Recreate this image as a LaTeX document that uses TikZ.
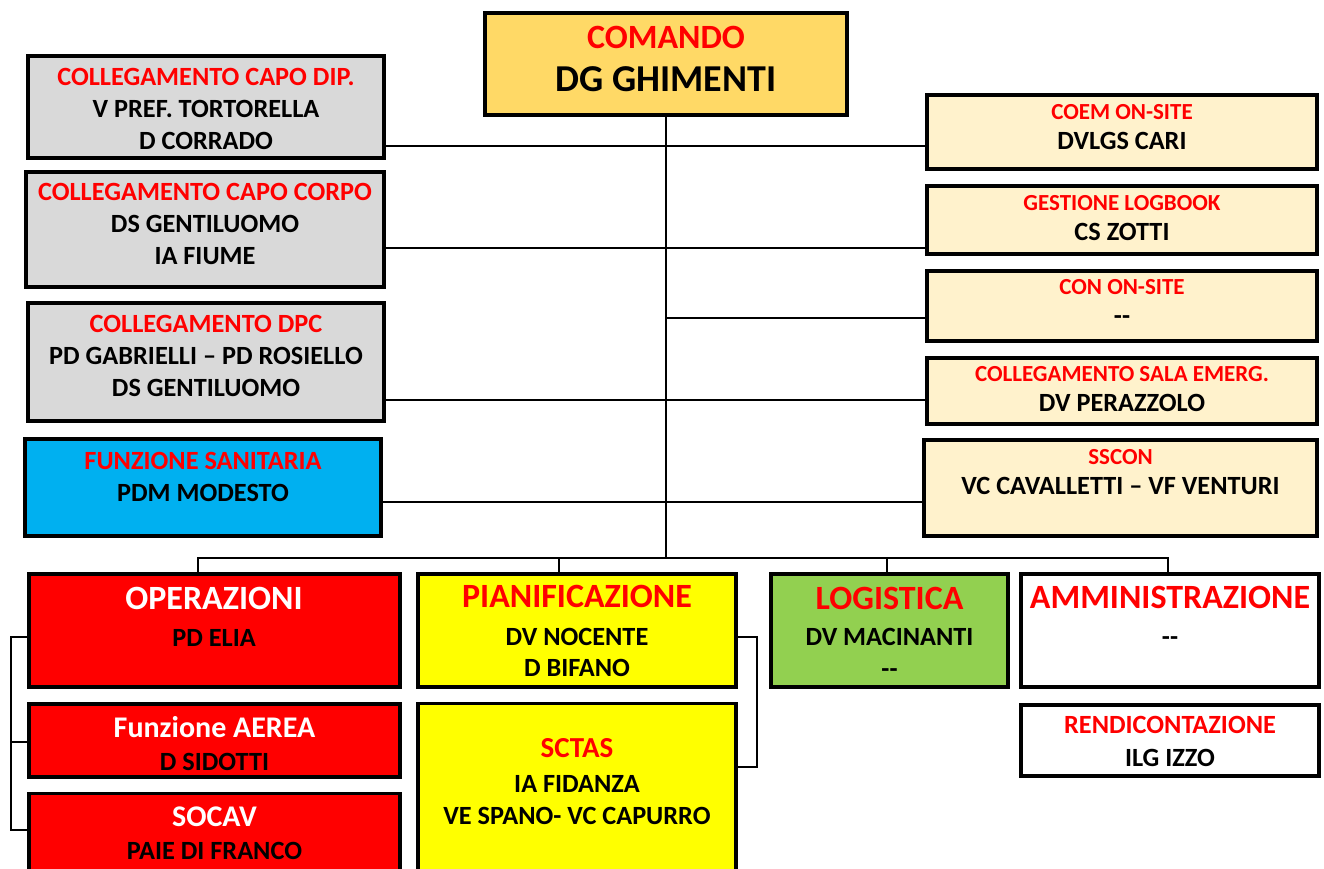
\documentclass[tikz,border=0pt]{standalone}
\usepackage{fontspec}
\setmainfont{Carlito}
\usepackage{tikz}

\definecolor{titlered}{HTML}{FF0000}
\definecolor{grigio}{HTML}{D9D9D9}
\definecolor{celeste}{HTML}{00B0F0}
\definecolor{crema}{HTML}{FFF2CC}
\definecolor{oro}{HTML}{FFD966}
\definecolor{giallo}{HTML}{FFFF00}
\definecolor{verde}{HTML}{92D050}

\newcommand{\titolo}[3]{{\fontsize{#1}{#1}\selectfont\color{#2}#3}}

\tikzset{
  box/.style={draw, line width=3.8pt, inner sep=0pt},
  link/.style={line width=2.2pt},
  scritta/.style={align=center, inner sep=0pt}
}

\begin{document}
\begin{tikzpicture}[x=1pt, y=-1pt]
    \useasboundingbox (0,0) rectangle (1324,868);
    \fill[white] (0,0) rectangle (1324,868);
    \clip (0,0) rectangle (1324,868);

    % Comando
    \node[box, line width=4.2pt, fill=oro, minimum width=362pt, minimum height=102pt] (cmd) at (666,64) {};
    \node[scritta, font=\fontsize{38}{43}\selectfont\bfseries] (cmdt) at (666,59) {\titolo{34}{titlered}{COMANDO}\\DG GHIMENTI};

    % Collegamenti a sinistra
    \node[box, fill=grigio, minimum width=356pt, minimum height=102pt] (dip) at (206,107) {};
    \node[box, fill=grigio, minimum width=358pt, minimum height=115pt] (corpo) at (205,229.5) {};
    \node[box, fill=grigio, minimum width=356pt, minimum height=118pt] (dpc) at (206,362) {};
    \node[box, fill=celeste, minimum width=356pt, minimum height=97pt] (sanit) at (203,487.5) {};
    \node[scritta, font=\fontsize{26.3}{32}\selectfont\bfseries] (dipt) at (206,109) {\titolo{26.3}{titlered}{COLLEGAMENTO CAPO DIP.}\\V PREF. TORTORELLA\\D CORRADO};
    \node[scritta, font=\fontsize{26.3}{32}\selectfont\bfseries] (corpot) at (205,224) {\titolo{26.3}{titlered}{COLLEGAMENTO CAPO CORPO}\\DS GENTILUOMO\\IA FIUME};
    \node[scritta, font=\fontsize{26.3}{32}\selectfont\bfseries] (dpct) at (206,355.5) {\titolo{26.3}{titlered}{COLLEGAMENTO DPC}\\PD GABRIELLI -- PD ROSIELLO\\DS GENTILUOMO};
    \node[scritta, font=\fontsize{26.3}{32}\selectfont\bfseries] (sanitt) at (203,477) {\titolo{26.3}{titlered}{FUNZIONE SANITARIA}\\PDM MODESTO};

    % Staff a destra
    \node[box, fill=crema, minimum width=390pt, minimum height=74pt] (coem) at (1122,132) {};
    \node[box, fill=crema, minimum width=390pt, minimum height=68pt] (logbook) at (1122,220) {};
    \node[box, fill=crema, minimum width=390pt, minimum height=70pt] (con) at (1122,306) {};
    \node[box, fill=crema, minimum width=390pt, minimum height=66pt] (sala) at (1122,391) {};
    \node[box, fill=crema, minimum width=393pt, minimum height=96pt] (sscon) at (1120.5,488) {};
    \node[scritta, font=\fontsize{26.3}{30}\selectfont\bfseries] (coemt) at (1122,127.5) {\titolo{23}{titlered}{COEM ON-SITE}\\DVLGS CARI};
    \node[scritta, font=\fontsize{26.3}{30}\selectfont\bfseries] (logbookt) at (1122,218) {\titolo{23}{titlered}{GESTIONE LOGBOOK}\\CS ZOTTI};
    \node[scritta, font=\fontsize{26.3}{30}\selectfont\bfseries] (cont) at (1122,302) {\titolo{23}{titlered}{CON ON-SITE}\\-{}-};
    \node[scritta, font=\fontsize{26.3}{30}\selectfont\bfseries] (salat) at (1122,389.5) {\titolo{23}{titlered}{COLLEGAMENTO SALA EMERG.}\\DV PERAZZOLO};
    \node[scritta, font=\fontsize{26.3}{30}\selectfont\bfseries] (sscont) at (1120.5,472.5) {\titolo{23}{titlered}{SSCON}\\VC CAVALLETTI -- VF VENTURI};

    % Funzioni in basso
    \node[box, fill=titlered, minimum width=371pt, minimum height=113pt] (oper) at (214.5,630.5) {};
    \node[box, fill=titlered, minimum width=371pt, minimum height=73pt] (aerea) at (214.5,740.5) {};
    \node[box, fill=titlered, minimum width=371pt, minimum height=125pt] (socav) at (214.5,856) {};
    \node[box, fill=giallo, minimum width=318pt, minimum height=113pt] (pian) at (577,630.5) {};
    \node[box, fill=giallo, minimum width=318pt, minimum height=215pt] (sctas) at (577,811) {};
    \node[box, fill=verde, minimum width=237pt, minimum height=113pt] (logi) at (889.5,630.5) {};
    \node[box, fill=white, minimum width=298pt, minimum height=113pt] (amm) at (1170,630.5) {};
    \node[box, fill=white, minimum width=298pt, minimum height=71pt] (rend) at (1170,740.5) {};
    \node[scritta, font=\fontsize{26.3}{37}\selectfont\bfseries] (opert) at (214,617) {\titolo{34}{white}{OPERAZIONI}\\PD ELIA};
    \node[scritta, font=\fontsize{26.3}{33}\selectfont\bfseries] (aereat) at (214.5,743.5) {\titolo{30}{white}{Funzione AEREA}\\D SIDOTTI};
    \node[scritta, font=\fontsize{26.3}{33}\selectfont\bfseries] (socavt) at (214.5,833.5) {\titolo{30}{white}{SOCAV}\\PAIE DI FRANCO};
    \node[scritta, font=\fontsize{26.3}{31}\selectfont\bfseries] (piant) at (577,631) {\titolo{34}{titlered}{PIANIFICAZIONE}\\[7pt]DV NOCENTE\\D BIFANO};
    \node[scritta, font=\fontsize{26.3}{32}\selectfont\bfseries] (sctast) at (577,781.5) {\titolo{29}{titlered}{SCTAS}\\[3pt]IA FIDANZA\\VE SPANO- VC CAPURRO};
    \node[scritta, font=\fontsize{26.3}{32}\selectfont\bfseries] (logit) at (889.5,632) {\titolo{34}{titlered}{LOGISTICA}\\[4pt]DV MACINANTI\\-{}-};
    \node[scritta, font=\fontsize{26.3}{37}\selectfont\bfseries] (ammt) at (1170,616) {\titolo{34}{titlered}{AMMINISTRAZIONE}\\-{}-};
    \node[scritta, font=\fontsize{26.3}{33}\selectfont\bfseries] (rendt) at (1170,741.5) {\titolo{26.3}{titlered}{RENDICONTAZIONE}\\ILG IZZO};

    % Tronco e collegamenti orizzontali
    \coordinate (bus) at (666,558);
    \draw[link] (cmd.south) -- (bus);
    \draw[link] (dip.east |- 0,146) -- (coem.west |- 0,146);
    \draw[link] (corpo.east |- 0,248) -- (logbook.west |- 0,248);
    \draw[link] (bus |- 0,318) -- (con.west |- 0,318);
    \draw[link] (dpc.east |- 0,400) -- (sala.west |- 0,400);
    \draw[link] (sanit.east |- 0,502) -- (sscon.west |- 0,502);

    % Barra delle funzioni
    \draw[link] (oper.north -| 198,0) |- (bus) -| (amm.north -| 1168,0);
    \draw[link] (pian.north -| 559,0) -- (bus -| 559,0);
    \draw[link] (logi.north -| 887,0) -- (bus -| 887,0);

    % Parentesi laterali
    \coordinate (opx) at (11,0);
    \draw[link] (oper.west |- 0,637) -- (opx |- 0,637) -- (opx |- 0,830) -- (socav.west |- 0,830);
    \draw[link] (aerea.west |- 0,742) -- (opx |- 0,742);
    \coordinate (pnx) at (757,0);
    \draw[link] (pian.east |- 0,637) -- (pnx |- 0,637) -- (pnx |- 0,767) -- (sctas.east |- 0,767);
\end{tikzpicture}
\end{document}
